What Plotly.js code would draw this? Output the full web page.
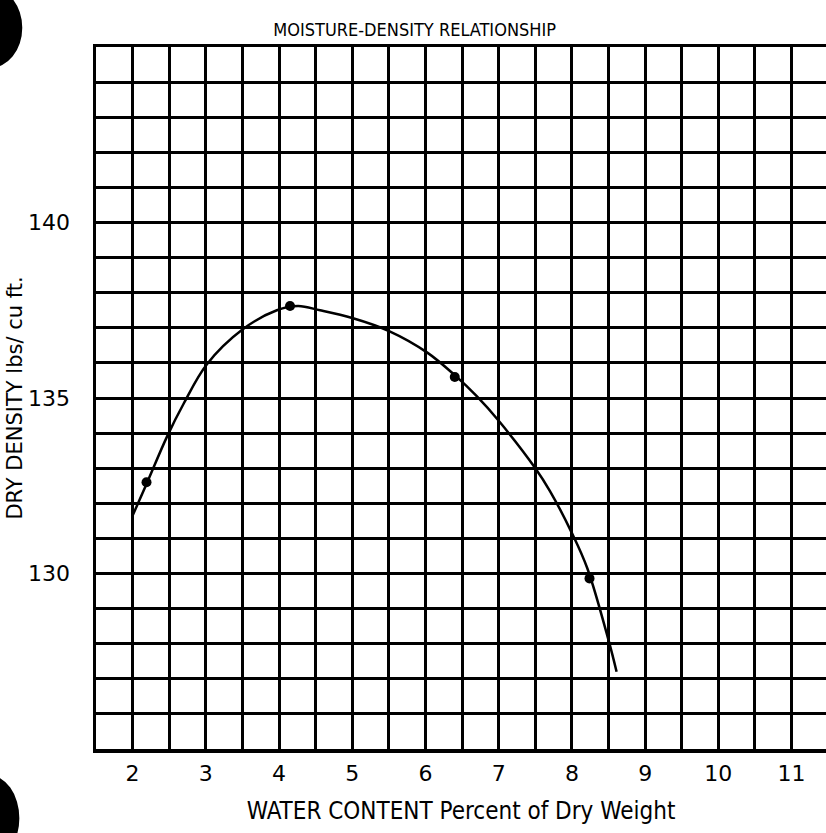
<!DOCTYPE html>
<html>
<head>
<meta charset="utf-8">
<script src="https://cdn.plot.ly/plotly-3.0.1.min.js"></script>
<style>html,body{margin:0;padding:0;background:#fff}#chart{width:826px;height:833px}</style>
</head>
<body>
<div id="chart"></div>
<script>
// Measured test points (water content %, dry density lbs/cu ft)
var pointX = [2.19, 4.15, 6.40, 8.24];
var pointY = [132.6, 137.62, 135.6, 129.86];

// Hand-drawn compaction curve
var curveX = [2.0, 2.19, 2.47, 2.70, 3.01, 3.50, 3.97, 4.26, 4.56, 5.0, 5.51, 6.02, 6.40, 6.70, 7.0, 7.5, 7.70, 8.0, 8.21, 8.5, 8.61];
var curveY = [131.65, 132.55, 133.9, 134.85, 135.95, 136.95, 137.5, 137.62, 137.5, 137.28, 136.9, 136.3, 135.65, 135.05, 134.35, 133.0, 132.35, 131.15, 130.15, 128.1, 127.2];

var xTickVals = [2, 3, 4, 5, 6, 7, 8, 9, 10, 11];
var xTickText = ["2", "3", "4", "5", "6", "7", "8", "9", "10", "11"];
var yTickVals = [130, 135, 140];
var yTickText = ["130", "135", "140"];

var titleText = "MOISTURE-DENSITY RELATIONSHIP";
var xTitleText = "WATER CONTENT Percent of Dry Weight";
var yTitleText = "DRY DENSITY lbs/ cu ft.";

var FONT = "DejaVu Sans, Open Sans, sans-serif";
var CFONT = "DejaVu Sans Condensed, DejaVu Sans, sans-serif";

var traces = [
  {x: curveX, y: curveY, type: "scatter", mode: "lines",
   line: {color: "#000", width: 2.5, shape: "spline", smoothing: 1}, hoverinfo: "skip", showlegend: false},
  {x: pointX, y: pointY, type: "scatter", mode: "markers",
   marker: {color: "#000", size: 10, symbol: "circle"}, showlegend: false}
];

var layout = {
  width: 826, height: 833,
  paper_bgcolor: "#fff", plot_bgcolor: "#fff",
  margin: {l: 96, r: 0, t: 47, b: 84, pad: 0},
  showlegend: false,
  font: {family: FONT, color: "#000"},
  title: {text: titleText, font: {family: CFONT, size: 18, color: "#000"},
          xref: "container", x: 0.502, xanchor: "center",
          yref: "container", y: 1 - 30/833, yanchor: "middle"},
  xaxis: {
    range: [1.5, 11.47], tickmode: "array", tickvals: xTickVals, ticktext: xTickText,
    tickfont: {family: FONT, size: 22, color: "#000"},
    ticks: "", ticklabelstandoff: 2,
    showgrid: true, gridcolor: "#000", gridwidth: 3,
    minor: {dtick: 0.5, tick0: 1.5, showgrid: true, gridcolor: "#000", gridwidth: 3, ticks: ""},
    showline: true, linecolor: "#000", linewidth: 3.5, mirror: true,
    zeroline: false, fixedrange: true,
    title: {text: xTitleText, font: {family: CFONT, size: 24, color: "#000"}, standoff: 18}
  },
  yaxis: {
    range: [125, 145], tickmode: "array", tickvals: yTickVals, ticktext: yTickText,
    tickfont: {family: FONT, size: 22, color: "#000"},
    ticks: "", ticklabelstandoff: 18,
    showgrid: true, gridcolor: "#000", gridwidth: 3,
    minor: {dtick: 1, tick0: 125, showgrid: true, gridcolor: "#000", gridwidth: 3, ticks: ""},
    showline: true, linecolor: "#000", linewidth: 3.5, mirror: false,
    zeroline: false, fixedrange: true,
    title: {text: yTitleText, font: {family: FONT, size: 21, color: "#000"}, standoff: 0}
  },
  shapes: [
    {type: "circle", xref: "paper", yref: "paper", x0: -0.19, x1: -0.101, y0: 0.97, y1: 1.085,
     fillcolor: "#000", line: {width: 0}, layer: "above"},
    {type: "circle", xref: "paper", yref: "paper", x0: -0.19, x1: -0.105, y0: -0.16, y1: -0.037,
     fillcolor: "#000", line: {width: 0}, layer: "above"}
  ]
};

Plotly.newPlot("chart", traces, layout, {displayModeBar: false, staticPlot: true});
</script>
</body>
</html>
